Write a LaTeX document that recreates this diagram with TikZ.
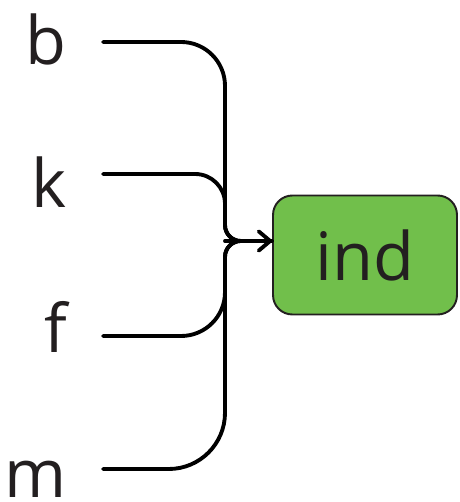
\documentclass[tikz,border=0pt]{standalone}
\usepackage{fontspec}
\setmainfont{Open Sans}
\usetikzlibrary{arrows.meta,positioning,calc}
\definecolor{leaf}{HTML}{71BF4B}
\definecolor{ink}{HTML}{231F20}

\begin{document}
\begin{tikzpicture}[x=0.02cm,y=-0.02cm,>={Straight Barb[round,length=6.5pt,width=11pt]},
    lbl/.style={font=\fontsize{38}{38}\selectfont,text=ink,inner sep=0pt},
    wire/.style={line width=2.2pt,line cap=round},
    box/.style={draw=ink,line width=1.1pt,rounded corners=11pt,fill=leaf,
      minimum width=3.68cm,minimum height=2.38cm,inner sep=0pt,
      font=\fontsize{38}{38}\selectfont,text=ink}]
    \useasboundingbox (0,0) rectangle (459,502);
    \node[lbl,anchor=base east] (b) at (67,65) {b};
    \node[lbl,anchor=base east] (k) at (67,208) {k};
    \node[lbl,anchor=base east] (f) at (67,352) {f};
    \node[lbl,anchor=base east] (m) at (67,497) {m};
    \node[box] (ind) at (365,255) {ind};
    \coordinate (j) at (225,241);
    \coordinate (sb) at (103,42);
    \coordinate (sk) at (103,174);
    \coordinate (sf) at (103,336);
    \coordinate (sm) at (103,469);
    \foreach \n/\r in {b/25pt,k/17pt,f/25pt,m/32pt}
      \draw[wire,rounded corners=\r] (s\n) -- (j |- s\n) [rounded corners=9pt] -- (j) -- (ind.west |- j);
    \draw[wire,->] (j) -- (ind.west |- j);
\end{tikzpicture}
\end{document}
